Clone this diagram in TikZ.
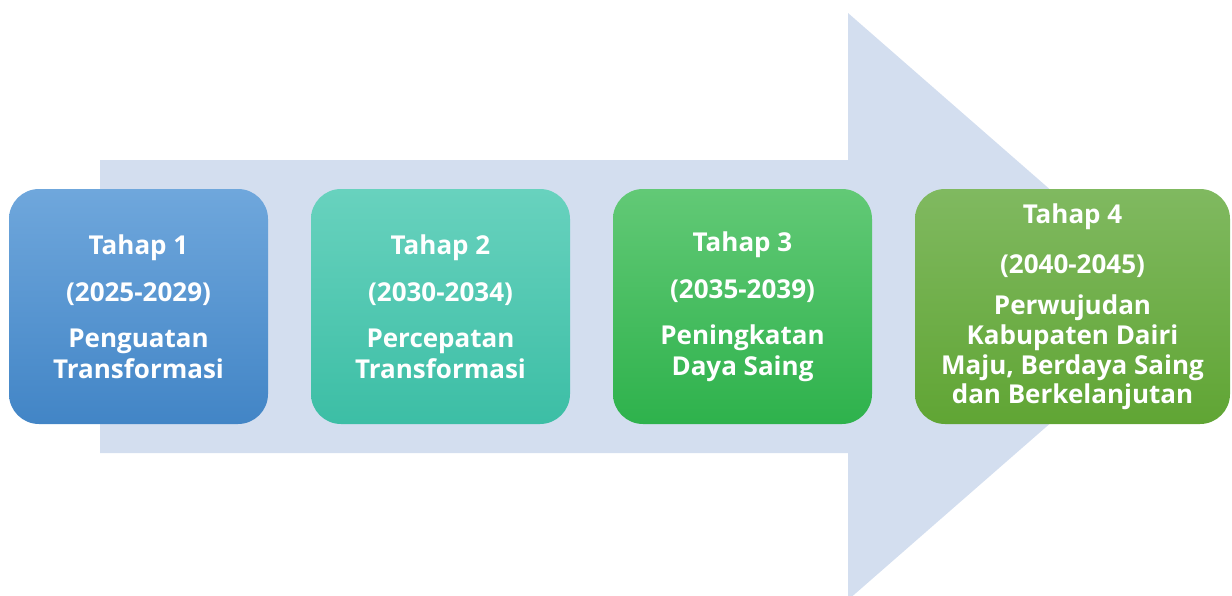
\documentclass[tikz,border=0pt]{standalone}
\usepackage{fontspec}
\setmainfont{Open Sans}
\begin{document}
\begin{tikzpicture}[x=1pt,y=-1pt,
  stagebox/.style={rounded corners=30pt, minimum width=259pt, minimum height=235pt,
    inner sep=0pt, text=white, align=center,
    font=\fontsize{26}{31}\selectfont\bfseries},
  arrowbg/.style={fill=arrowcol, draw=none}]
\definecolor{arrowcol}{RGB}{211,222,239}
\definecolor{bTop}{RGB}{111,167,220}
\definecolor{bBot}{RGB}{66,133,198}
\definecolor{tTop}{RGB}{104,210,190}
\definecolor{tBot}{RGB}{60,190,165}
\definecolor{gTop}{RGB}{98,201,118}
\definecolor{gBot}{RGB}{46,178,76}
\definecolor{lTop}{RGB}{128,185,96}
\definecolor{lBot}{RGB}{96,165,52}
\useasboundingbox (0,0) rectangle (1232,595);
\clip (0,0) rectangle (1232,595);
% big arrow
\path[arrowbg] (100,160) -- (848,160) -- (848,13) -- (1184,306.5) -- (848,600)
  -- (848,453) -- (100,453) -- cycle;
% stages
\node[stagebox, top color=bTop, bottom color=bBot] (s1) at (138.5,306.5)
  {Tahap 1\\[16pt](2025-2029)\\[15pt]Penguatan\\Transformasi};
\node[stagebox, top color=tTop, bottom color=tBot] (s2) at (440.5,306.5)
  {Tahap 2\\[16pt](2030-2034)\\[15pt]Percepatan\\Transformasi};
\node[stagebox, top color=gTop, bottom color=gBot] (s3) at (742.5,306.5)
  {Tahap 3\\[16pt](2035-2039)\\[15pt]Peningkatan\\Daya Saing};
\node[stagebox, minimum width=315pt, top color=lTop, bottom color=lBot] (s4) at (1072.5,306.5)
  {Tahap 4\\[19pt](2040-2045)\\[10pt]Perwujudan\\[-1pt]Kabupaten Dairi\\[-1pt]Maju, Berdaya Saing\\[-2pt]dan Berkelanjutan};
\end{tikzpicture}
\end{document}
